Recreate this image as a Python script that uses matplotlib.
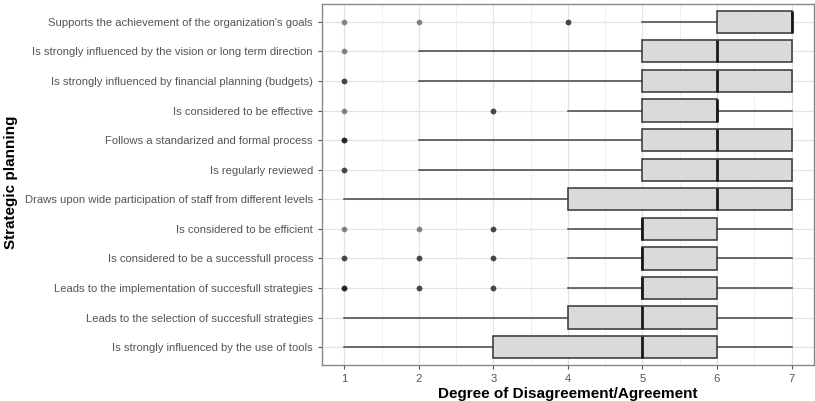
# coding=utf-8

""" Strategic planning: horizontal boxplots (ggplot-like look) """

import matplotlib
matplotlib.use('Agg')
import matplotlib.pyplot as plt

# categories, top to bottom
items = [
    "Supports the achievement of the organization's goals",
    "Is strongly influenced by the vision or long term direction",
    "Is strongly influenced by financial planning (budgets)",
    "Is considered to be effective",
    "Follows a standarized and formal process",
    "Is regularly reviewed",
    "Draws upon wide participation of staff from different levels",
    "Is considered to be efficient",
    "Is considered to be a successfull process",
    "Leads to the implementation of succesfull strategies",
    "Leads to the selection of succesfull strategies",
    "Is strongly influenced by the use of tools",
]
q1 = [6, 5, 5, 5, 5, 5, 4, 5, 5, 5, 4, 3]
median = [7, 6, 6, 6, 6, 6, 6, 5, 5, 5, 5, 5]
q3 = [7, 7, 7, 6, 7, 7, 7, 6, 6, 6, 6, 6]
whisker_low = [5, 2, 2, 4, 2, 2, 1, 4, 4, 4, 1, 1]
whisker_high = [7, 7, 7, 7, 7, 7, 7, 7, 7, 7, 7, 7]
# outliers: value -> number of overlapping answers
outliers = [
    {1: 1, 2: 1, 4: 2},
    {1: 1},
    {1: 2},
    {1: 1, 3: 2},
    {1: 3},
    {1: 2},
    {},
    {1: 1, 2: 1, 3: 2},
    {1: 2, 2: 2, 3: 2},
    {1: 3, 2: 2, 3: 2},
    {},
    {},
]
xticks = [1, 2, 3, 4, 5, 6, 7]


def main():
    plt.rcParams['font.family'] = ['Liberation Sans', 'DejaVu Sans']
    fig = plt.figure(figsize=(8.15, 4.01), dpi=100)
    ax = fig.add_axes([0.395, 0.09, 0.6037, 0.9])

    n = len(items)
    pos = [n - i for i in range(n)]

    stats = []
    for i in range(n):
        stats.append(dict(med=median[i], q1=q1[i], q3=q3[i],
                          whislo=whisker_low[i], whishi=whisker_high[i],
                          fliers=[], label=items[i]))
    ax.bxp(stats, positions=pos, widths=0.75, orientation='horizontal',
           showcaps=False, showfliers=False, patch_artist=True,
           boxprops=dict(facecolor='#dadada', edgecolor='#333333', linewidth=1.1),
           whiskerprops=dict(color='#444444', linewidth=1.1),
           medianprops=dict(color='#1a1a1a', linewidth=2.0),
           zorder=3)

    # outliers, overlapping points get darker
    for i in range(n):
        for v, cnt in outliers[i].items():
            for _ in range(cnt):
                ax.scatter([v], [pos[i]], s=17, color='black', alpha=0.45,
                           linewidths=0, zorder=4)

    ax.set_xlim(0.7, 7.3)
    ax.set_ylim(0.4, n + 0.6)
    ax.set_xticks(xticks)
    ax.set_xticklabels([str(t) for t in xticks])
    ax.set_xticks([1.5, 2.5, 3.5, 4.5, 5.5, 6.5], minor=True)
    ax.set_yticks(pos)
    ax.set_yticklabels(items)

    ax.grid(True, which='major', color='#e3e3e3', linewidth=0.9, zorder=0)
    ax.grid(True, which='minor', axis='x', color='#eeeeee', linewidth=0.6, zorder=0)
    ax.set_axisbelow(True)
    ax.tick_params(axis='both', which='major', length=3, color='#555555',
                   labelcolor='#555555', labelsize=8.1)
    ax.tick_params(axis='x', which='minor', length=0)
    for s in ax.spines.values():
        s.set_color('#888888')
        s.set_linewidth(1.0)

    ax.set_xlabel('Degree of Disagreement/Agreement', fontsize=11,
                  fontweight='bold', color='black', labelpad=2)
    fig.text(0.014, 0.545, 'Strategic planning', rotation=90, fontsize=11,
             fontweight='bold', ha='center', va='center')

    fig.savefig('out.png', dpi=100)


if __name__ == '__main__':
    main()
